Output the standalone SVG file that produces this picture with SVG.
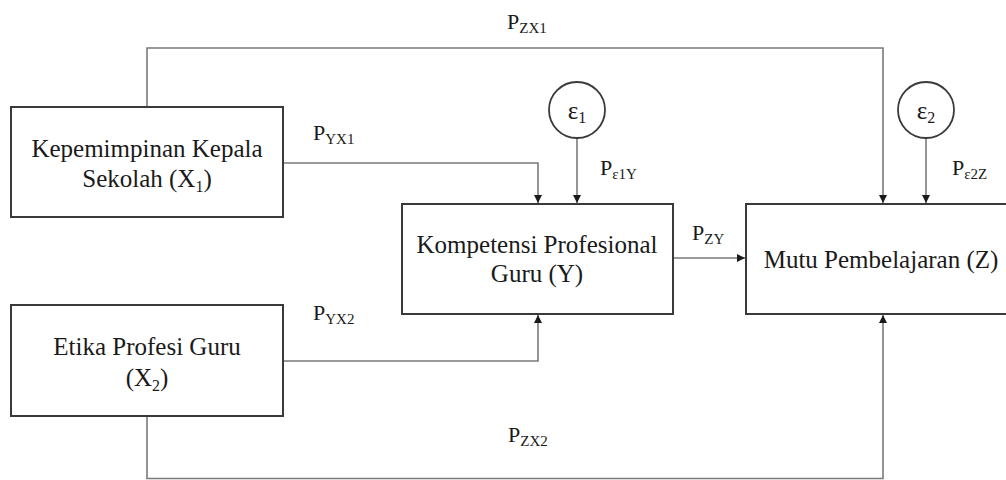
<svg xmlns="http://www.w3.org/2000/svg" width="1006" height="480" viewBox="0 0 1006 480" font-family="Liberation Serif, DejaVu Serif, serif">
<style>
.box{fill:#fff;stroke:#3a3a3a;stroke-width:2}
.circ{fill:#fff;stroke:#3a3a3a;stroke-width:1.8}
.t{font-size:25px;fill:#1a1a1a;text-anchor:middle}
.lbl{font-size:22px;fill:#1a1a1a}
.sub{font-size:15px}
.con{fill:none;stroke:#7a7a7a;stroke-width:1.6}
</style>
<defs>
<marker id="ah" viewBox="0 0 8 8" refX="8" refY="4" markerWidth="8" markerHeight="8" markerUnits="userSpaceOnUse" orient="auto">
<path d="M0,0 L8,4 L0,8 z" fill="#1a1a1a"/>
</marker>
</defs>
<g id="connectors">
<path class="con" d="M147,107 V48 H883 V203" marker-end="url(#ah)"/>
<path class="con" d="M283,163 H538 V203" marker-end="url(#ah)"/>
<path class="con" d="M577,138 V203" marker-end="url(#ah)"/>
<path class="con" d="M926,138 V203" marker-end="url(#ah)"/>
<path class="con" d="M673,258 H745" marker-end="url(#ah)"/>
<path class="con" d="M283,361 H538 V315" marker-end="url(#ah)"/>
<path class="con" d="M147,416 V478.5 H883 V315" marker-end="url(#ah)"/>
</g>
<g id="labels">
<text class="lbl" x="507" y="29">P<tspan class="sub" dy="4">ZX1</tspan></text>
<text class="lbl" x="313" y="140">P<tspan class="sub" dy="4">YX1</tspan></text>
<text class="lbl" x="600" y="175">P<tspan class="sub" dy="4">ε1Y</tspan></text>
<text class="lbl" x="952" y="175">P<tspan class="sub" dy="4">ε2Z</tspan></text>
<text class="lbl" x="692" y="240">P<tspan class="sub" dy="4">ZY</tspan></text>
<text class="lbl" x="313" y="320">P<tspan class="sub" dy="4">YX2</tspan></text>
<text class="lbl" x="508" y="442">P<tspan class="sub" dy="4">ZX2</tspan></text>
</g>
<g id="X1">
<rect class="box" x="11" y="107" width="272" height="110"/>
<text class="t" x="147" y="157">Kepemimpinan  Kepala</text>
<text class="t" x="147" y="187">Sekolah (X<tspan font-size="16" dy="5">1</tspan><tspan dy="-5">)</tspan></text>
</g>
<g id="X2">
<rect class="box" x="11" y="305" width="272" height="111"/>
<text class="t" x="147" y="355">Etika Profesi  Guru</text>
<text class="t" x="147" y="386">(X<tspan font-size="16" dy="5">2</tspan><tspan dy="-5">)</tspan></text>
</g>
<g id="Y">
<rect class="box" x="402" y="204" width="271" height="110"/>
<text class="t" x="537" y="253">Kompetensi  Profesional</text>
<text class="t" x="537" y="282">Guru (Y)</text>
</g>
<g id="Z">
<rect class="box" x="746" y="204" width="280" height="110"/>
<text class="t" x="881" y="268">Mutu Pembelajaran  (Z)</text>
</g>
<g id="e1">
<circle class="circ" cx="577" cy="110" r="28"/>
<text class="t" x="577" y="119">ε<tspan font-size="16" dy="4">1</tspan></text>
</g>
<g id="e2">
<circle class="circ" cx="926" cy="110" r="28"/>
<text class="t" x="926" y="119">ε<tspan font-size="16" dy="4">2</tspan></text>
</g>
</svg>
